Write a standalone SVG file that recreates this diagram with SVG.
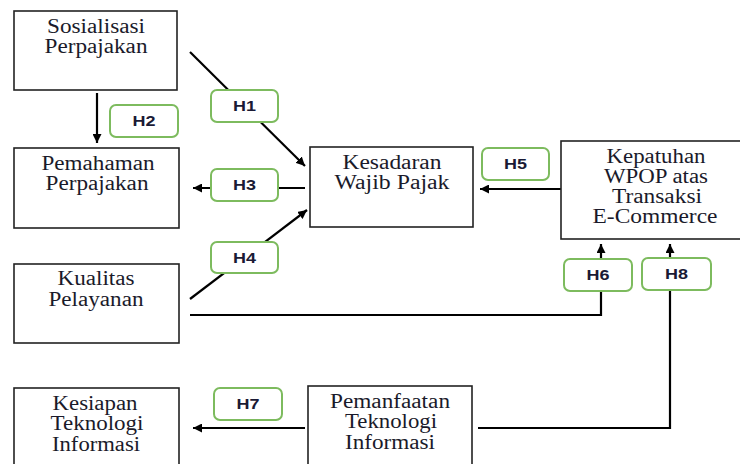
<svg xmlns="http://www.w3.org/2000/svg" width="740" height="464" viewBox="0 0 740 464">
<defs>
<marker id="ah" viewBox="0 0 10 10" refX="10" refY="5" markerWidth="9" markerHeight="9" markerUnits="userSpaceOnUse" orient="auto">
<path d="M0,0 L10,5 L0,10 z" fill="#000"/>
</marker>
<style>
.box{fill:#fff;stroke:#222;stroke-width:1.6}
.t{font-family:"Liberation Serif","Times New Roman",serif;font-size:20px;fill:#1a1a2a;text-anchor:middle}
.lab{fill:#fff;stroke:#7dbb5e;stroke-width:2}
.lt{font-family:"Liberation Sans",Arial,sans-serif;font-weight:bold;font-size:14px;fill:#1a1a35;text-anchor:middle}
.c{fill:none;stroke:#000;stroke-width:2.2}
.a{marker-end:url(#ah)}
</style>
</defs>
<rect width="740" height="464" fill="#fff"/>
<g id="connectors">
<line class="c a" x1="97" y1="93" x2="97" y2="143"/>
<line class="c a" x1="190" y1="52" x2="305" y2="166"/>
<line class="c a" x1="305" y1="188" x2="193" y2="188"/>
<line class="c a" x1="190" y1="299" x2="307" y2="210"/>
<line class="c a" x1="561" y1="189" x2="480" y2="189"/>
<path class="c a" d="M190,315 H601 V244"/>
<path class="c a" d="M478,428 H670 V244"/>
<line class="c a" x1="305" y1="428" x2="193" y2="428"/>
</g>
<g id="sosialisasi">
<rect class="box" x="14" y="11" width="163" height="79"/>
<text class="t" x="96" y="33" textLength="98" lengthAdjust="spacingAndGlyphs">Sosialisasi</text>
<text class="t" x="96" y="53" textLength="103" lengthAdjust="spacingAndGlyphs">Perpajakan</text>
</g>
<g id="pemahaman">
<rect class="box" x="14" y="148" width="165" height="80"/>
<text class="t" x="98" y="170" textLength="113" lengthAdjust="spacingAndGlyphs">Pemahaman</text>
<text class="t" x="97" y="190" textLength="103" lengthAdjust="spacingAndGlyphs">Perpajakan</text>
</g>
<g id="kesadaran">
<rect class="box" x="310" y="147" width="163" height="80"/>
<text class="t" x="392" y="169" textLength="99" lengthAdjust="spacingAndGlyphs">Kesadaran</text>
<text class="t" x="392" y="189" textLength="115" lengthAdjust="spacingAndGlyphs">Wajib Pajak</text>
</g>
<g id="kepatuhan">
<rect class="box" x="561" y="141" width="195" height="98"/>
<text class="t" x="656" y="163" textLength="99" lengthAdjust="spacingAndGlyphs">Kepatuhan</text>
<text class="t" x="656" y="183" textLength="104" lengthAdjust="spacingAndGlyphs">WPOP atas</text>
<text class="t" x="657" y="203" textLength="90" lengthAdjust="spacingAndGlyphs">Transaksi</text>
<text class="t" x="655" y="223" textLength="125" lengthAdjust="spacingAndGlyphs">E-Commerce</text>
</g>
<g id="kualitas">
<rect class="box" x="14" y="264" width="165" height="79"/>
<text class="t" x="96" y="285" textLength="77" lengthAdjust="spacingAndGlyphs">Kualitas</text>
<text class="t" x="96" y="306" textLength="95" lengthAdjust="spacingAndGlyphs">Pelayanan</text>
</g>
<g id="kesiapan">
<rect class="box" x="14" y="388" width="165" height="90"/>
<text class="t" x="95" y="410" textLength="85" lengthAdjust="spacingAndGlyphs">Kesiapan</text>
<text class="t" x="97" y="430" textLength="93" lengthAdjust="spacingAndGlyphs">Teknologi</text>
<text class="t" x="96" y="451" textLength="88" lengthAdjust="spacingAndGlyphs">Informasi</text>
</g>
<g id="pemanfaatan">
<rect class="box" x="308" y="386" width="164" height="92"/>
<text class="t" x="390" y="408" textLength="120" lengthAdjust="spacingAndGlyphs">Pemanfaatan</text>
<text class="t" x="391" y="428" textLength="92" lengthAdjust="spacingAndGlyphs">Teknologi</text>
<text class="t" x="390" y="449" textLength="90" lengthAdjust="spacingAndGlyphs">Informasi</text>
</g>
<g id="H1"><rect class="lab" x="211" y="90" width="67" height="32" rx="6"/><text class="lt" x="244.5" y="111" textLength="23" lengthAdjust="spacingAndGlyphs">H1</text></g>
<g id="H2"><rect class="lab" x="110" y="105" width="68" height="32" rx="6"/><text class="lt" x="144" y="126" textLength="23" lengthAdjust="spacingAndGlyphs">H2</text></g>
<g id="H3"><rect class="lab" x="211" y="169" width="67" height="32" rx="6"/><text class="lt" x="244.5" y="190" textLength="23" lengthAdjust="spacingAndGlyphs">H3</text></g>
<g id="H4"><rect class="lab" x="211" y="242" width="67" height="31" rx="6"/><text class="lt" x="244.5" y="262.5" textLength="23" lengthAdjust="spacingAndGlyphs">H4</text></g>
<g id="H5"><rect class="lab" x="482" y="148" width="67" height="32" rx="6"/><text class="lt" x="515.5" y="169" textLength="23" lengthAdjust="spacingAndGlyphs">H5</text></g>
<g id="H6"><rect class="lab" x="564" y="259" width="68" height="32" rx="6"/><text class="lt" x="598" y="280" textLength="23" lengthAdjust="spacingAndGlyphs">H6</text></g>
<g id="H8"><rect class="lab" x="642" y="258" width="69" height="32" rx="6"/><text class="lt" x="676.5" y="279" textLength="23" lengthAdjust="spacingAndGlyphs">H8</text></g>
<g id="H7"><rect class="lab" x="214" y="388" width="68" height="32" rx="6"/><text class="lt" x="248" y="409" textLength="23" lengthAdjust="spacingAndGlyphs">H7</text></g>
</svg>
